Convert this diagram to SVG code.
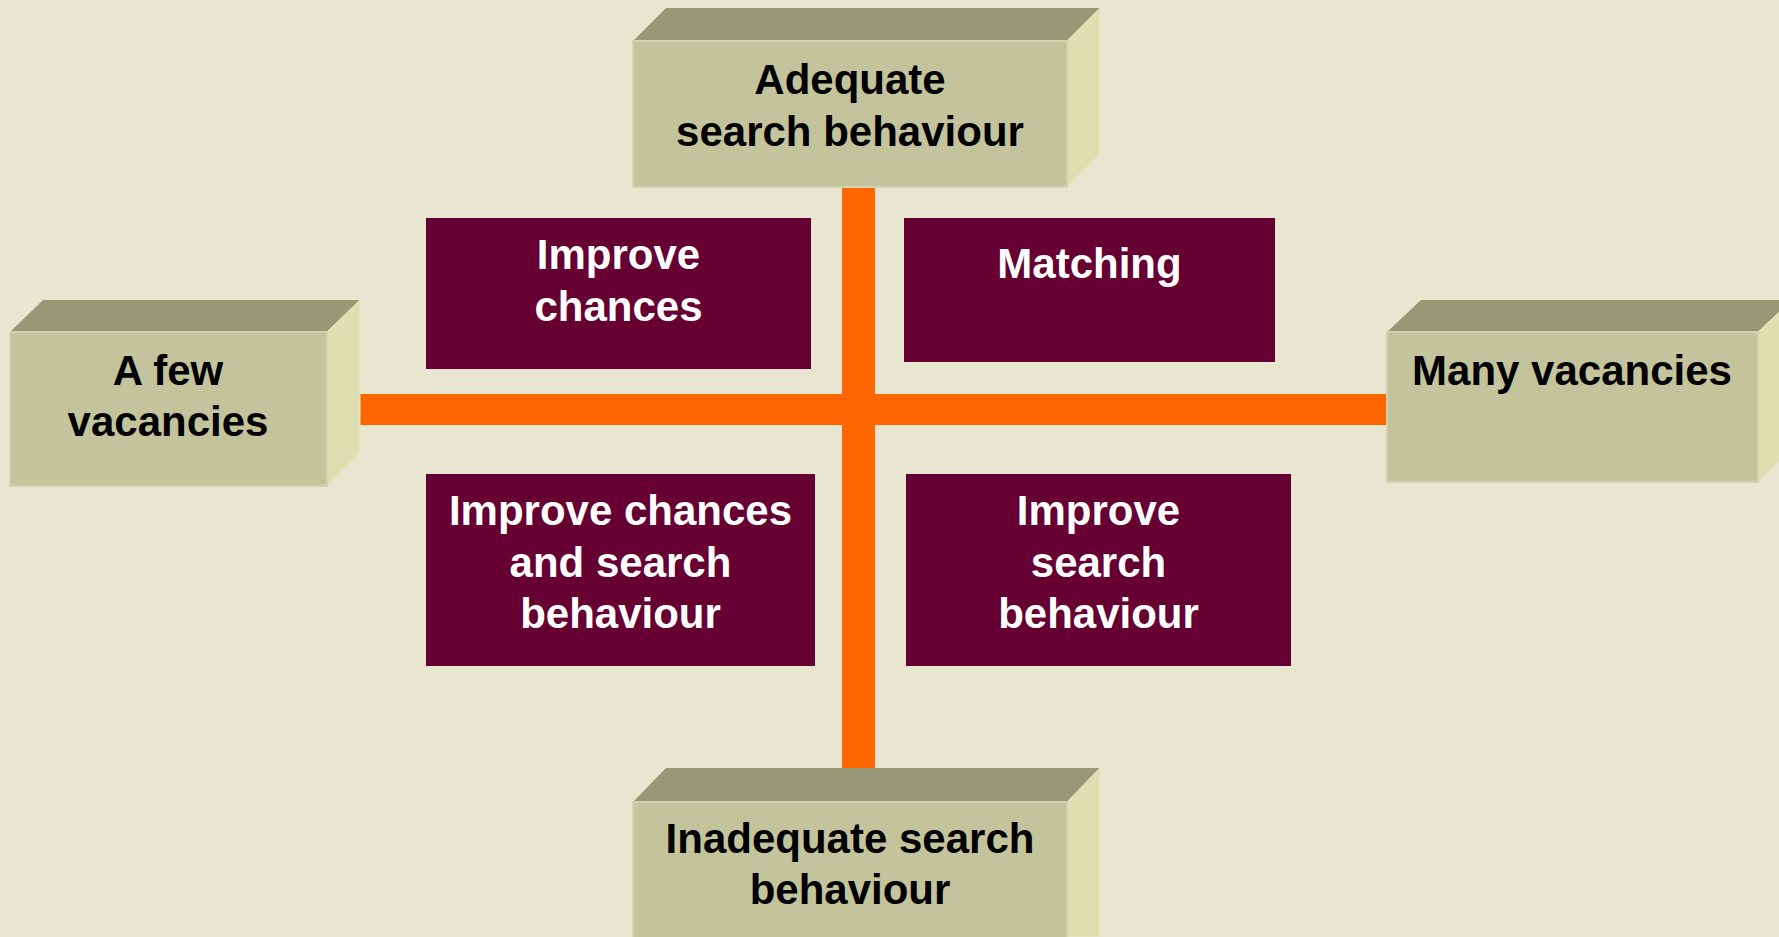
<svg xmlns="http://www.w3.org/2000/svg" width="1779" height="937" viewBox="0 0 1779 937">
<style>
.front{fill:#C4C49C;stroke:#D2D2AE;stroke-width:2}
.top{fill:#999876}
.side{fill:#E0DFB2;stroke:#E8E8C4;stroke-width:1}
.bar{fill:#FF6600}
.quad{fill:#660033}
.lbl{font-family:"Liberation Sans",Arial,sans-serif;font-weight:bold;font-size:42px;text-anchor:middle;fill:#000}
.wlbl{font-family:"Liberation Sans",Arial,sans-serif;font-weight:bold;font-size:42px;text-anchor:middle;fill:#fff}
</style>
<rect x="0" y="0" width="1779" height="937" fill="#E8E6D0"/>
<g id="connectors">
<rect class="bar" x="842" y="186" width="33" height="583"/>
<rect class="bar" x="359" y="394" width="1029" height="31"/>
</g>
<g id="node-top">
<polygon class="top" points="633,41 666,8 1100,8 1067,41"/>
<polygon class="side" points="1067,41 1100,8 1100,154 1067,187"/>
<rect class="front" x="633" y="41" width="434" height="146"/>
<text class="lbl" x="850" y="94">Adequate</text>
<text class="lbl" x="850" y="146">search behaviour</text>
</g>
<g id="node-left">
<polygon class="top" points="10,332 43,300 360,300 327,332"/>
<polygon class="side" points="327,332 360,300 360,453 327,486"/>
<rect class="front" x="10" y="332" width="317" height="154"/>
<text class="lbl" x="168" y="385">A few</text>
<text class="lbl" x="168" y="436">vacancies</text>
</g>
<g id="node-right">
<polygon class="top" points="1387,332 1421,300 1792,300 1758,332"/>
<polygon class="side" points="1758,332 1792,300 1792,449 1758,482"/>
<rect class="front" x="1387" y="332" width="371" height="150"/>
<text class="lbl" x="1572" y="385">Many vacancies</text>
</g>
<g id="node-bottom">
<polygon class="top" points="633,802 666,768 1100,768 1067,802"/>
<polygon class="side" points="1067,802 1100,768 1100,937 1067,937"/>
<rect class="front" x="633" y="802" width="434" height="150"/>
<text class="lbl" x="850" y="853">Inadequate search</text>
<text class="lbl" x="850" y="904">behaviour</text>
</g>
<g id="node-improve-chances">
<rect class="quad" x="426" y="218" width="385" height="151"/>
<text class="wlbl" x="618.5" y="269">Improve</text>
<text class="wlbl" x="618.5" y="321">chances</text>
</g>
<g id="node-matching">
<rect class="quad" x="904" y="218" width="371" height="144"/>
<text class="wlbl" x="1089.5" y="278">Matching</text>
</g>
<g id="node-improve-both">
<rect class="quad" x="426" y="474" width="389" height="192"/>
<text class="wlbl" x="620.5" y="525">Improve chances</text>
<text class="wlbl" x="620.5" y="577">and search</text>
<text class="wlbl" x="620.5" y="628">behaviour</text>
</g>
<g id="node-improve-search">
<rect class="quad" x="906" y="474" width="385" height="192"/>
<text class="wlbl" x="1098.5" y="525">Improve</text>
<text class="wlbl" x="1098.5" y="577">search</text>
<text class="wlbl" x="1098.5" y="628">behaviour</text>
</g>
</svg>
